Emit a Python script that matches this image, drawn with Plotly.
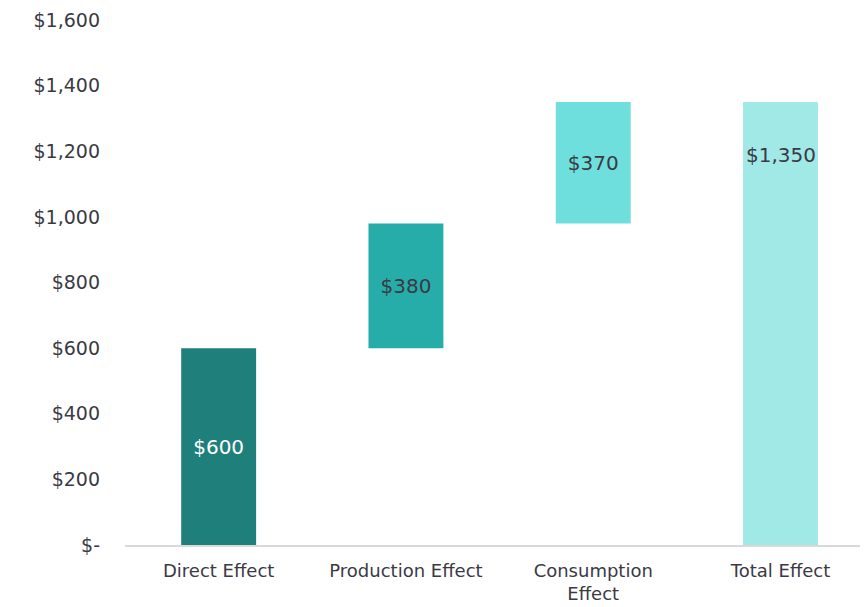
import plotly.graph_objects as go

categories = ["Direct Effect", "Production Effect", "Consumption<br>Effect", "Total Effect"]
values = [600, 380, 370, 1350]
bases = [0, 600, 980, 0]
labels = ["$600", "$380", "$370", "$1,350"]
bar_colors = ["#1F7F7B", "#27ADA9", "#6EDFDC", "#A0E9E7"]
label_colors = ["#FFFFFF", "#3A3A45", "#3A3A45", "#3A3A45"]

y_ticks = [0, 200, 400, 600, 800, 1000, 1200, 1400, 1600]
y_ticktext = ["$-", "$200", "$400", "$600", "$800", "$1,000", "$1,200", "$1,400", "$1,600"]

FONT = "DejaVu Sans"
TEXT = "#3A3A45"

# the total label sits high in its bar rather than centred
total_label_y = 1190

fig = go.Figure(go.Bar(
    x=categories, y=values, base=bases,
    width=0.4,
    marker=dict(color=bar_colors, line_width=0),
    text=labels[:3] + [""],
    textposition="inside",
    insidetextanchor="middle",
    textangle=0,
    textfont=dict(family=FONT, size=20, color=label_colors),
    hoverinfo="skip",
))

fig.add_annotation(x=categories[3], y=total_label_y, text=labels[3],
                   showarrow=False, font=dict(family=FONT, size=20, color=TEXT))

# page body has an 8px margin, so the figure is sized to the visible area
fig.update_layout(
    width=860, height=599,
    paper_bgcolor="white", plot_bgcolor="white",
    margin=dict(l=117, r=0, t=12, b=62, autoexpand=False),
    showlegend=False,
    font=dict(family=FONT, color=TEXT, size=18),
)
fig.update_xaxes(range=[-0.5, 3.467], showline=True, linecolor="#D9D9D9",
                 linewidth=2, showgrid=False, ticks="", automargin=False,
                 tickfont=dict(family=FONT, size=18, color=TEXT),
                 ticklabelstandoff=8)
fig.update_yaxes(range=[0, 1600], tickvals=y_ticks, ticktext=y_ticktext,
                 showgrid=False, zeroline=False, showline=False, ticks="",
                 automargin=False,
                 tickfont=dict(family=FONT, size=19, color=TEXT),
                 ticklabelstandoff=24)

fig.write_html("out.html")
